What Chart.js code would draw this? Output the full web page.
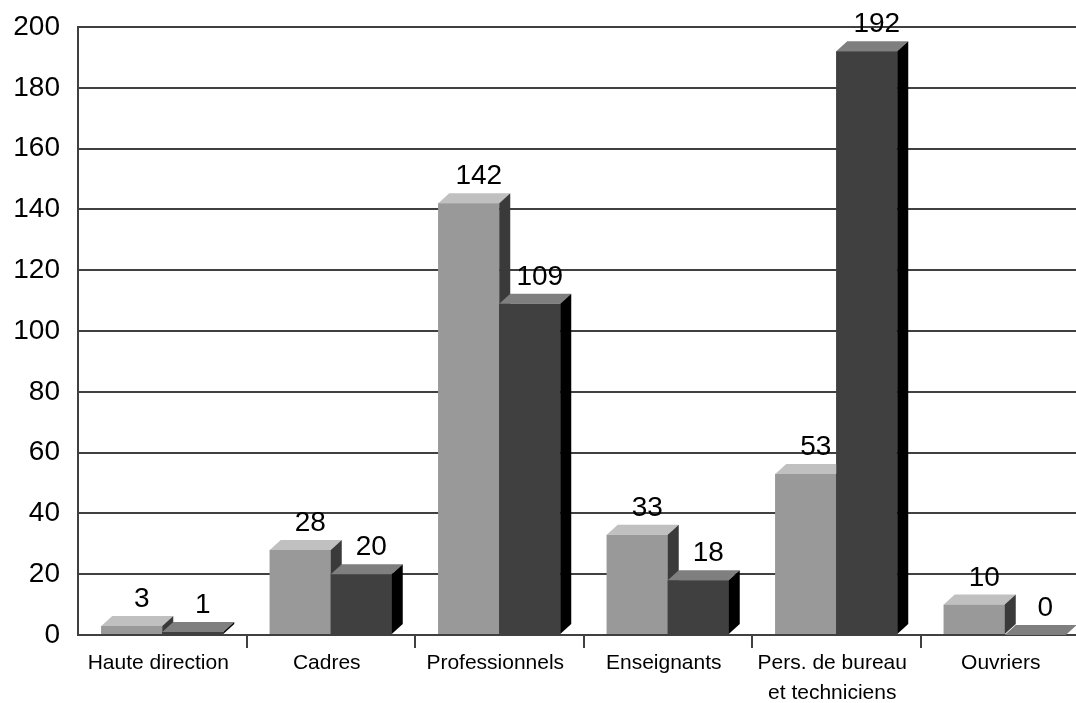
<!DOCTYPE html>
<html>
<head>
<meta charset="utf-8">
<script src="https://cdn.jsdelivr.net/npm/chart.js@4"></script>
<style>
  html, body { margin: 0; padding: 0; background: #ffffff; overflow: hidden; width: 1076px; height: 703px; }
  #wrap { position: absolute; left: 0; top: 0; width: 1090px; height: 703px; }
</style>
</head>
<body>
<div id="wrap"><canvas id="c" width="1090" height="703"></canvas></div>
<script>
const categories = ['Haute direction', 'Cadres', 'Professionnels', 'Enseignants', ['Pers. de bureau', 'et techniciens'], 'Ouvriers'];
const seriesA = [3, 28, 142, 33, 53, 10];
const seriesB = [1, 20, 109, 18, 192, 0];
const yTicks = [0, 20, 40, 60, 80, 100, 120, 140, 160, 180, 200];

const DEPTH_X = 11, DEPTH_Y = 10;
const faces = [
  { front: '#999999', top: '#c0c0c0', side: '#3a3a3a' },
  { front: '#404040', top: '#7f7f7f', side: '#000000' }
];

const bar3d = {
  id: 'bar3d',
  afterDatasetsDraw(chart) {
    const ctx = chart.ctx;
    ctx.save();
    chart.data.datasets.forEach((ds, di) => {
      const meta = chart.getDatasetMeta(di);
      const f = faces[di];
      meta.data.forEach(bar => {
        const p = bar.getProps(['x', 'y', 'base', 'width'], true);
        const l = p.x - p.width / 2, r = p.x + p.width / 2;
        ctx.fillStyle = f.front;
        ctx.fillRect(l, p.y, p.width, p.base - p.y);
        ctx.fillStyle = f.top;
        ctx.beginPath();
        ctx.moveTo(l, p.y); ctx.lineTo(r, p.y);
        ctx.lineTo(r + DEPTH_X, p.y - DEPTH_Y); ctx.lineTo(l + DEPTH_X, p.y - DEPTH_Y);
        ctx.closePath(); ctx.fill();
        ctx.fillStyle = f.side;
        ctx.beginPath();
        ctx.moveTo(r, p.y); ctx.lineTo(r + DEPTH_X, p.y - DEPTH_Y);
        ctx.lineTo(r + DEPTH_X, p.base - DEPTH_Y); ctx.lineTo(r, p.base);
        ctx.closePath(); ctx.fill();
      });
    });
    ctx.fillStyle = '#000000';
    ctx.font = '28px "Liberation Sans", Arial, sans-serif';
    ctx.textAlign = 'center';
    ctx.textBaseline = 'alphabetic';
    chart.data.datasets.forEach((ds, di) => {
      const meta = chart.getDatasetMeta(di);
      meta.data.forEach((bar, i) => {
        const p = bar.getProps(['x', 'y'], true);
        ctx.fillText(String(ds.data[i]), p.x + 10, p.y - DEPTH_Y - 9);
      });
    });
    ctx.restore();
  }
};

new Chart(document.getElementById('c'), {
  type: 'bar',
  data: {
    labels: categories,
    datasets: [
      { label: 'Série 1', data: seriesA, backgroundColor: faces[0].front, borderWidth: 0 },
      { label: 'Série 2', data: seriesB, backgroundColor: faces[1].front, borderWidth: 0 }
    ]
  },
  options: {
    responsive: false,
    animation: false,
    layout: { padding: { top: 27, right: 1, bottom: 0, left: 0 } },
    datasets: { bar: { barPercentage: 1, categoryPercentage: 0.724 } },
    plugins: { legend: { display: false }, tooltip: { enabled: false } },
    scales: {
      x: {
        offset: true,
        afterFit: s => { s.height = 68; },
        grid: {
          offset: true,
          drawOnChartArea: false,
          drawTicks: true,
          tickLength: 13,
          lineWidth: 2,
          color: c => (c.index === 0 ? 'rgba(0,0,0,0)' : '#404040')
        },
        border: { display: true, color: '#404040', width: 2 },
        ticks: {
          color: '#000000',
          padding: 0,
          labelOffset: -4,
          maxRotation: 0,
          autoSkip: false,
          font: { family: '"Liberation Sans", Arial, sans-serif', size: 21, lineHeight: 1.43 }
        }
      },
      y: {
        min: 0,
        max: 200,
        afterFit: s => { s.width = 78; s.paddingTop = 0; s.paddingBottom = 0; },
        afterBuildTicks: s => { s.ticks = yTicks.map(v => ({ value: v })); },
        grid: { drawTicks: false, lineWidth: 2, color: '#404040' },
        border: { display: true, color: '#404040', width: 2 },
        ticks: {
          color: '#000000',
          padding: 18,
          font: { family: '"Liberation Sans", Arial, sans-serif', size: 28, lineHeight: 0.6 }
        }
      }
    }
  },
  plugins: [bar3d]
});
</script>
</body>
</html>
